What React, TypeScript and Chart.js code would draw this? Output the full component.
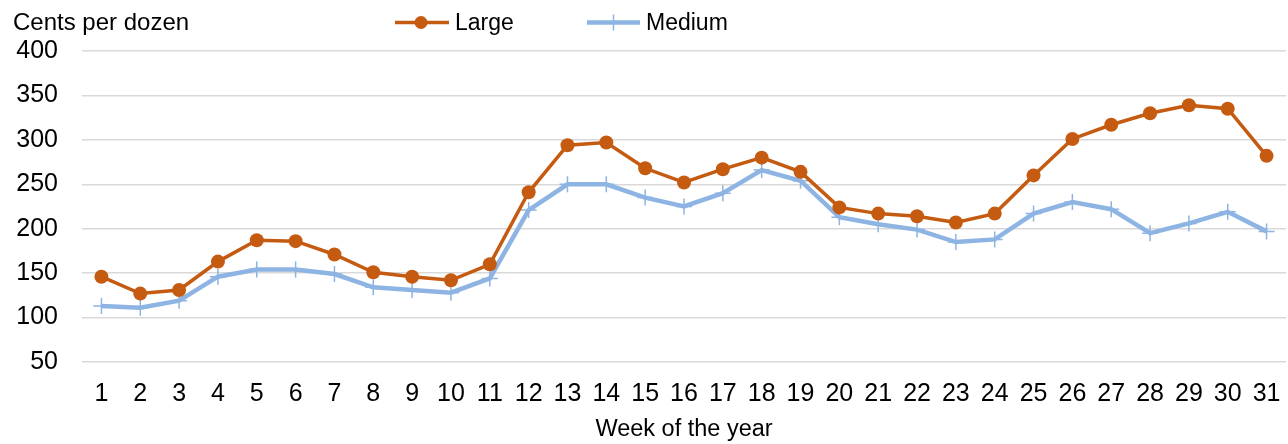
import React, { useEffect, useRef } from 'react';
import { Chart, registerables } from 'chart.js';

Chart.register(...registerables);

const weeks: string[] = [
  '1', '2', '3', '4', '5', '6', '7', '8', '9', '10', '11', '12', '13', '14', '15', '16',
  '17', '18', '19', '20', '21', '22', '23', '24', '25', '26', '27', '28', '29', '30', '31',
];

const largeValues: number[] = [
  146, 127, 131, 163, 187, 186, 171, 151, 146, 142, 160, 241, 294, 297, 268, 252,
  267, 280, 264, 224, 217, 214, 207, 217, 260, 301, 317, 330, 339, 335, 282,
];

const mediumValues: number[] = [
  113, 111, 119, 146, 154, 154, 149, 134, 131, 128, 144, 221, 250, 250, 235, 225,
  240, 266, 254, 213, 205, 199, 185, 188, 217, 230, 222, 195, 206, 219, 197,
];

const seriesNames: string[] = ['Large', 'Medium'];
const yAxisLabel = 'Cents per dozen';
const xAxisLabel = 'Week of the year';
const yMin = 50;
const yMax = 400;
const yStep = 50;

const FONT = '"Liberation Sans", Arial, Helvetica, sans-serif';
const LARGE_COLOR = '#C55A11';
const MEDIUM_COLOR = '#8DB4E2';
const TEXT_COLOR = '#000000';

const headerPlugin = {
  id: 'headerPlugin',
  afterDraw(chart: any) {
    const ctx = chart.ctx as CanvasRenderingContext2D;
    ctx.save();
    ctx.font = `24px ${FONT}`;
    ctx.fillStyle = TEXT_COLOR;
    ctx.textBaseline = 'alphabetic';
    ctx.textAlign = 'left';
    ctx.fillText(yAxisLabel, 13, 30);

    ctx.font = `23px ${FONT}`;
    const y = 22.5;
    // Large legend
    ctx.strokeStyle = LARGE_COLOR;
    ctx.lineWidth = 3.5;
    ctx.beginPath();
    ctx.moveTo(395, y);
    ctx.lineTo(449, y);
    ctx.stroke();
    ctx.fillStyle = LARGE_COLOR;
    ctx.beginPath();
    ctx.arc(421, y, 6.5, 0, Math.PI * 2);
    ctx.fill();
    ctx.fillStyle = TEXT_COLOR;
    ctx.fillText(seriesNames[0], 455, 30);

    // Medium legend
    ctx.strokeStyle = MEDIUM_COLOR;
    ctx.lineWidth = 4.5;
    ctx.beginPath();
    ctx.moveTo(587, y);
    ctx.lineTo(640, y);
    ctx.stroke();
    ctx.lineWidth = 1.5;
    ctx.beginPath();
    ctx.moveTo(613.5, y - 8);
    ctx.lineTo(613.5, y + 8);
    ctx.moveTo(605.5, y);
    ctx.lineTo(621.5, y);
    ctx.stroke();
    ctx.fillStyle = TEXT_COLOR;
    ctx.fillText(seriesNames[1], 646, 30);
    ctx.restore();
  },
};

export default function App() {
  const canvasRef = useRef<HTMLCanvasElement | null>(null);

  useEffect(() => {
    document.body.style.margin = '0';
    const canvas = canvasRef.current;
    if (!canvas) return;
    const chart = new Chart(canvas, {
      type: 'line',
      data: {
        labels: weeks,
        datasets: [
          {
            label: seriesNames[0],
            data: largeValues,
            borderColor: LARGE_COLOR,
            backgroundColor: LARGE_COLOR,
            borderWidth: 3.5,
            pointStyle: 'circle',
            pointRadius: 7,
            pointBorderWidth: 0,
            pointBackgroundColor: LARGE_COLOR,
            pointBorderColor: LARGE_COLOR,
            tension: 0,
            fill: false,
          },
          {
            label: seriesNames[1],
            data: mediumValues,
            borderColor: MEDIUM_COLOR,
            backgroundColor: MEDIUM_COLOR,
            borderWidth: 4.5,
            pointStyle: 'cross',
            pointRadius: 8,
            pointBorderWidth: 1.5,
            pointBorderColor: MEDIUM_COLOR,
            pointBackgroundColor: MEDIUM_COLOR,
            tension: 0,
            fill: false,
          },
        ],
      },
      options: {
        responsive: false,
        maintainAspectRatio: false,
        animation: false,
        devicePixelRatio: 1,
        layout: { autoPadding: false, padding: { left: 0, right: 2, top: 51, bottom: 0 } },
        plugins: {
          legend: { display: false },
          tooltip: { enabled: false },
          title: { display: false },
        },
        scales: {
          x: {
            type: 'category',
            offset: true,
            grid: { display: false, drawTicks: false },
            border: { display: false },
            ticks: {
              color: TEXT_COLOR,
              font: { family: FONT, size: 25 },
              padding: 17,
              maxRotation: 0,
              autoSkip: false,
            },
            title: {
              display: true,
              text: xAxisLabel,
              color: TEXT_COLOR,
              font: { family: FONT, size: 23.5 },
              padding: { top: 0, bottom: 0 },
            },
            afterFit(scale: any) {
              scale.height = 82;
              scale.paddingLeft = 0;
              scale.paddingRight = 0;
            },
          },
          y: {
            min: yMin,
            max: yMax,
            grid: { color: '#D9D9D9', lineWidth: 1.5, drawTicks: false },
            border: { display: false },
            ticks: {
              stepSize: yStep,
              color: TEXT_COLOR,
              font: { family: FONT, size: 25 },
              padding: 24,
            },
            afterFit(scale: any) {
              scale.width = 82;
              scale.paddingTop = 0;
              scale.paddingBottom = 0;
            },
          },
        },
      },
      plugins: [headerPlugin],
    });
    return () => chart.destroy();
  }, []);

  return (
    <div style={{ position: 'absolute', left: 0, top: 0, width: 1288, height: 444, background: '#fff' }}>
      <canvas ref={canvasRef} width={1288} height={444} style={{ width: 1288, height: 444, display: 'block' }} />
    </div>
  );
}
